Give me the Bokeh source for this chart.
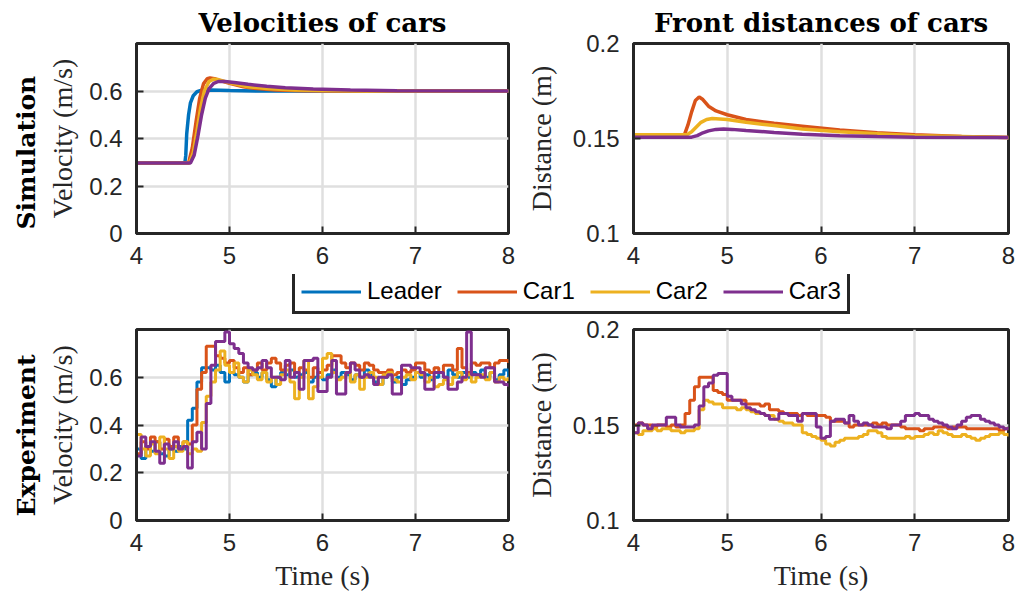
import numpy as np
from bokeh.plotting import figure
from bokeh.layouts import column, row
from bokeh.models import Range1d, FixedTicker, Title, Legend, LegendItem
from bokeh.embed import file_html
from bokeh.resources import INLINE

# ---------------- data ----------------
names = ["Leader", "Car1", "Car2", "Car3"]
colors = ["#0072BD", "#D95319", "#EDB120", "#7E2F8E"]

x_ticks = [4, 5, 6, 7, 8]
x_tick_labels = ["4", "5", "6", "7", "8"]
vel_ticks = [0, 0.2, 0.4, 0.6]
vel_tick_labels = ["0", "0.2", "0.4", "0.6"]
dist_ticks = [0.1, 0.15, 0.2]
dist_tick_labels = ["0.1", "0.15", "0.2"]

# Simulation velocities (knots)
sim_v_leader_t = [4.0, 4.52, 4.53, 4.54, 4.56, 4.58, 4.61, 4.65, 4.70, 4.80, 5.0, 5.3, 8.0]
sim_v_leader = [0.297, 0.297, 0.33, 0.42, 0.50, 0.55, 0.58, 0.597, 0.603, 0.604, 0.602, 0.600, 0.600]
sim_v_car1_t = [4.0, 4.56, 4.60, 4.64, 4.68, 4.72, 4.76, 4.79, 4.84, 4.9, 5.0, 5.15, 5.3, 5.5, 5.8, 6.2, 8.0]
sim_v_car1 = [0.297, 0.297, 0.36, 0.47, 0.57, 0.63, 0.652, 0.655, 0.652, 0.644, 0.632, 0.618, 0.610, 0.604, 0.601, 0.600, 0.600]
sim_v_car2_t = [4.0, 4.57, 4.61, 4.65, 4.69, 4.73, 4.78, 4.83, 4.88, 4.95, 5.05, 5.2, 5.4, 5.7, 6.0, 6.5, 8.0]
sim_v_car2 = [0.297, 0.297, 0.34, 0.43, 0.53, 0.60, 0.64, 0.650, 0.648, 0.640, 0.630, 0.618, 0.610, 0.604, 0.602, 0.600, 0.600]
sim_v_car3_t = [4.0, 4.58, 4.62, 4.66, 4.70, 4.74, 4.78, 4.83, 4.88, 4.95, 5.05, 5.2, 5.4, 5.6, 5.9, 6.3, 6.8, 8.0]
sim_v_car3 = [0.297, 0.297, 0.33, 0.41, 0.50, 0.57, 0.61, 0.632, 0.640, 0.640, 0.636, 0.628, 0.620, 0.614, 0.608, 0.604, 0.601, 0.600]

# Simulation front distances
sim_d_car1_t = [4.0, 4.54, 4.58, 4.62, 4.66, 4.70, 4.74, 4.80, 4.88, 5.0, 5.2, 5.5, 5.8, 6.2, 6.6, 7.0, 7.5, 8.0]
sim_d_car1 = [0.1515, 0.1515, 0.157, 0.164, 0.170, 0.1718, 0.1705, 0.167, 0.1645, 0.1625, 0.160, 0.158, 0.1565, 0.1545, 0.153, 0.152, 0.151, 0.1505]
sim_d_car2_t = [4.0, 4.57, 4.62, 4.67, 4.72, 4.78, 4.84, 4.92, 5.0, 5.2, 5.5, 5.8, 6.2, 6.6, 7.0, 7.5, 8.0]
sim_d_car2 = [0.152, 0.152, 0.1535, 0.156, 0.1585, 0.160, 0.1605, 0.1603, 0.160, 0.1585, 0.1568, 0.155, 0.1535, 0.1525, 0.1515, 0.151, 0.1505]
sim_d_car3_t = [4.0, 4.62, 4.68, 4.74, 4.80, 4.88, 4.96, 5.05, 5.2, 5.5, 5.8, 6.2, 6.6, 7.0, 8.0]
sim_d_car3 = [0.1507, 0.1507, 0.1515, 0.153, 0.154, 0.1548, 0.155, 0.1548, 0.1542, 0.1532, 0.1523, 0.1515, 0.151, 0.1507, 0.1505]

# Experiment samples, every 0.05 s from 4.00 to 8.00
exp_t = [round(4.0 + 0.05 * i, 2) for i in range(81)]
exp_v_leader = [
    0.30, 0.26, 0.31, 0.29, 0.33, 0.28, 0.27, 0.30, 0.29, 0.31,
    0.30, 0.42, 0.47, 0.58, 0.64, 0.64, 0.63, 0.65, 0.62, 0.58,
    0.62, 0.61, 0.60, 0.58, 0.61, 0.62, 0.60, 0.62, 0.59, 0.56,
    0.60, 0.62, 0.61, 0.63, 0.60, 0.61, 0.62, 0.58, 0.60, 0.62,
    0.59, 0.61, 0.63, 0.60, 0.62, 0.61, 0.59, 0.61, 0.60, 0.63,
    0.61, 0.58, 0.57, 0.60, 0.61, 0.58, 0.60, 0.57, 0.59, 0.60,
    0.62, 0.60, 0.61, 0.59, 0.60, 0.62, 0.60, 0.63, 0.61, 0.60,
    0.62, 0.60, 0.62, 0.61, 0.63, 0.60, 0.62, 0.59, 0.61, 0.63,
    0.60]
exp_v_car1 = [
    0.28, 0.33, 0.30, 0.35, 0.33, 0.30, 0.34, 0.31, 0.35, 0.30,
    0.33, 0.32, 0.40, 0.55, 0.62, 0.73, 0.73, 0.69, 0.68, 0.66,
    0.67, 0.64, 0.62, 0.64, 0.61, 0.63, 0.66, 0.63, 0.66, 0.68,
    0.66, 0.63, 0.65, 0.66, 0.62, 0.64, 0.63, 0.60, 0.64, 0.62,
    0.63, 0.65, 0.69, 0.69, 0.66, 0.64, 0.66, 0.65, 0.63, 0.66,
    0.65, 0.63, 0.62, 0.62, 0.63, 0.61, 0.62, 0.63, 0.62, 0.63,
    0.66, 0.66, 0.63, 0.62, 0.64, 0.62, 0.65, 0.65, 0.63, 0.72,
    0.64, 0.62, 0.66, 0.65, 0.66, 0.66, 0.64, 0.66, 0.67, 0.67,
    0.66]
exp_v_car2 = [
    0.36, 0.30, 0.27, 0.32, 0.28, 0.35, 0.30, 0.26, 0.31, 0.29,
    0.33, 0.28, 0.30, 0.29, 0.41, 0.52, 0.58, 0.63, 0.71, 0.65,
    0.62, 0.66, 0.60, 0.58, 0.63, 0.61, 0.59, 0.62, 0.58, 0.60,
    0.57, 0.61, 0.63, 0.58, 0.51, 0.60, 0.67, 0.51, 0.56, 0.60,
    0.68, 0.70, 0.62, 0.59, 0.60, 0.62, 0.58, 0.61, 0.55, 0.60,
    0.62, 0.60, 0.57, 0.61, 0.62, 0.59, 0.58, 0.60, 0.61, 0.59,
    0.62, 0.61, 0.58, 0.60, 0.56, 0.57, 0.59, 0.57, 0.60, 0.62,
    0.59, 0.61, 0.58, 0.60, 0.61, 0.59, 0.62, 0.58, 0.60, 0.59,
    0.60]
exp_v_car3 = [
    0.27, 0.35, 0.31, 0.33, 0.29, 0.24, 0.32, 0.30, 0.33, 0.30,
    0.31, 0.22, 0.33, 0.37, 0.30, 0.49, 0.65, 0.75, 0.75, 0.79,
    0.74, 0.72, 0.70, 0.66, 0.64, 0.63, 0.64, 0.67, 0.64, 0.60,
    0.60, 0.59, 0.67, 0.60, 0.62, 0.55, 0.67, 0.67, 0.68, 0.54,
    0.54, 0.60, 0.67, 0.53, 0.53, 0.62, 0.66, 0.63, 0.60, 0.61,
    0.60, 0.57, 0.60, 0.60, 0.61, 0.53, 0.53, 0.65, 0.65, 0.64,
    0.64, 0.62, 0.55, 0.55, 0.62, 0.62, 0.60, 0.55, 0.55, 0.58,
    0.60, 0.79, 0.61, 0.61, 0.60, 0.64, 0.64, 0.58, 0.58, 0.57,
    0.56]
exp_d_car1 = [
    0.150, 0.151, 0.150, 0.150, 0.149, 0.150, 0.150, 0.149, 0.150, 0.149,
    0.150, 0.156, 0.163, 0.170, 0.175, 0.175, 0.175, 0.168, 0.167, 0.166,
    0.163, 0.163, 0.163, 0.163, 0.161, 0.161, 0.161, 0.160, 0.161, 0.158,
    0.158, 0.157, 0.156, 0.156, 0.156, 0.155, 0.156, 0.155, 0.155, 0.155,
    0.155, 0.154, 0.152, 0.152, 0.152, 0.151, 0.149, 0.150, 0.150, 0.150,
    0.150, 0.151, 0.150, 0.151, 0.150, 0.150, 0.150, 0.149, 0.148, 0.148,
    0.148, 0.147, 0.148, 0.148, 0.149, 0.149, 0.149, 0.148, 0.149, 0.149,
    0.149, 0.148, 0.148, 0.148, 0.148, 0.148, 0.148, 0.148, 0.147, 0.148,
    0.148]
exp_d_car2 = [
    0.146, 0.145, 0.147, 0.147, 0.148, 0.147, 0.148, 0.148, 0.147, 0.147,
    0.146, 0.147, 0.147, 0.148, 0.158, 0.163, 0.162, 0.161, 0.161, 0.159,
    0.159, 0.159, 0.158, 0.159, 0.158, 0.157, 0.156, 0.156, 0.155, 0.155,
    0.153, 0.152, 0.151, 0.151, 0.150, 0.150, 0.146, 0.145, 0.144, 0.143,
    0.142, 0.140, 0.139, 0.141, 0.142, 0.143, 0.143, 0.143, 0.144, 0.145,
    0.147, 0.147, 0.146, 0.144, 0.143, 0.143, 0.143, 0.143, 0.144, 0.143,
    0.144, 0.144, 0.145, 0.146, 0.145, 0.147, 0.146, 0.145, 0.144, 0.144,
    0.145, 0.144, 0.143, 0.142, 0.143, 0.144, 0.145, 0.145, 0.146, 0.145,
    0.144]
exp_d_car3 = [
    0.146, 0.151, 0.150, 0.148, 0.150, 0.150, 0.150, 0.154, 0.154, 0.150,
    0.149, 0.149, 0.149, 0.150, 0.160, 0.170, 0.172, 0.176, 0.177, 0.177,
    0.165, 0.163, 0.163, 0.161, 0.159, 0.158, 0.157, 0.156, 0.155, 0.153,
    0.153, 0.156, 0.156, 0.155, 0.155, 0.152, 0.156, 0.156, 0.156, 0.149,
    0.143, 0.144, 0.152, 0.153, 0.153, 0.151, 0.155, 0.152, 0.150, 0.151,
    0.150, 0.149, 0.149, 0.149, 0.148, 0.150, 0.150, 0.152, 0.155, 0.155,
    0.156, 0.155, 0.155, 0.153, 0.152, 0.151, 0.150, 0.149, 0.148, 0.150,
    0.152, 0.154, 0.155, 0.155, 0.153, 0.152, 0.151, 0.150, 0.149, 0.148,
    0.149]

# ---------------- styling helpers ----------------
INK = "#262626"
TICK_FONT = "Liberation Sans"
LABEL_FONT = "Liberation Serif"
BOLD_FONT = "DejaVu Serif"


def style_axis(ax, ticks, labels, standoff):
    ax.ticker = FixedTicker(ticks=ticks)
    ax.major_label_overrides = {t: l for t, l in zip(ticks, labels)}
    ax.axis_line_color = INK
    ax.axis_line_width = 3
    ax.major_tick_in = 7
    ax.major_tick_out = 0
    ax.major_tick_line_color = INK
    ax.major_tick_line_width = 2
    ax.minor_tick_line_color = None
    ax.major_label_text_font = TICK_FONT
    ax.major_label_text_color = INK
    ax.major_label_text_font_size = "24px"
    ax.major_label_standoff = standoff


def label_style(ax, text, standoff):
    ax.axis_label = text
    ax.axis_label_text_font = LABEL_FONT
    ax.axis_label_text_font_style = "normal"
    ax.axis_label_text_font_size = "28px"
    ax.axis_label_text_color = INK
    ax.axis_label_standoff = standoff


def make_fig(w, h, ml, mr, mt, mb, yr, yticks, ylabels, ylabel,
             ylab_standoff, title=None, rowlabel=None, xlabel=None):
    p = figure(width=w, height=h, x_range=Range1d(4, 8), y_range=Range1d(*yr),
               output_backend="svg", toolbar_location=None, title=title,
               min_border_left=ml, min_border_right=mr,
               min_border_top=mt, min_border_bottom=mb)
    p.outline_line_color = INK
    p.outline_line_width = 3
    p.outline_line_alpha = 1
    style_axis(p.xaxis[0], x_ticks, x_tick_labels, 13)
    style_axis(p.yaxis[0], yticks, ylabels, 14)
    p.xgrid.ticker = FixedTicker(ticks=x_ticks)
    p.ygrid.ticker = FixedTicker(ticks=yticks)
    p.grid.grid_line_color = "#DFDFDF"
    p.grid.grid_line_width = 2.5
    label_style(p.yaxis[0], ylabel, ylab_standoff)
    if xlabel:
        label_style(p.xaxis[0], xlabel, 6)
    if title:
        p.title.align = "center"
        p.title.text_font = BOLD_FONT
        p.title.text_font_style = "bold"
        p.title.text_font_size = "26px"
        p.title.text_color = "black"
        p.title.standoff = 11
    if rowlabel:
        p.add_layout(Title(text=rowlabel, align="left", offset=4, standoff=8,
                           text_font=BOLD_FONT, text_font_style="bold",
                           text_font_size="25px", text_color="black"), "left")
    return p


# ---------------- figures ----------------
tl = make_fig(520, 274, 136, 12, 43, 41, (0, 0.8), vel_ticks, vel_tick_labels,
              "Velocity (m/s)", 8, title="Velocities of cars", rowlabel="Simulation")
tr = make_fig(502, 274, 113, 14, 43, 41, (0.1, 0.2), dist_ticks, dist_tick_labels,
              "Distance (m)", 13, title="Front distances of cars")
bl = make_fig(520, 287, 136, 12, 14, 82, (0, 0.8), vel_ticks, vel_tick_labels,
              "Velocity (m/s)", 8, rowlabel="Experiment", xlabel="Time (s)")
br = make_fig(502, 287, 113, 14, 14, 82, (0.1, 0.2), dist_ticks, dist_tick_labels,
              "Distance (m)", 13, xlabel="Time (s)")

sim_v = [(sim_v_leader_t, sim_v_leader), (sim_v_car1_t, sim_v_car1),
         (sim_v_car2_t, sim_v_car2), (sim_v_car3_t, sim_v_car3)]
for (t, v), c in zip(sim_v, colors):
    tl.line(t, v, line_color=c, line_width=3.5)

sim_d = [(sim_d_car1_t, sim_d_car1), (sim_d_car2_t, sim_d_car2), (sim_d_car3_t, sim_d_car3)]
for (t, d), c in zip(sim_d, colors[1:]):
    tr.line(t, d, line_color=c, line_width=3.5)

for v, c in zip([exp_v_leader, exp_v_car1, exp_v_car2, exp_v_car3], colors):
    bl.step(exp_t, v, mode="after", line_color=c, line_width=3)

for d, c in zip([exp_d_car1, exp_d_car2, exp_d_car3], colors[1:]):
    br.step(exp_t, d, mode="after", line_color=c, line_width=3)

# ---------------- legend strip ----------------
lf = figure(width=1022, height=41, x_range=Range1d(0, 1), y_range=Range1d(0, 1),
            x_axis_type=None, y_axis_type=None, output_backend="svg",
            toolbar_location=None, min_border=0)
lf.outline_line_color = None
items = []
for n, c in zip(names, colors):
    r = lf.line([-5, -4], [-5, -4], line_color=c, line_width=3)
    items.append(LegendItem(label=n, renderers=[r]))
leg = Legend(items=items, location=(292, 1), orientation="horizontal",
             label_text_font=TICK_FONT, label_text_font_size="24px",
             label_text_color="black", glyph_width=60, glyph_height=27,
             label_height=27, label_standoff=6, spacing=15, padding=6, margin=0,
             border_line_color=INK, border_line_width=3, border_line_alpha=1,
             background_fill_alpha=1)
lf.add_layout(leg)

layout = column(row(tl, tr), lf, row(bl, br))
open("out.html", "w").write(file_html(layout, INLINE))
